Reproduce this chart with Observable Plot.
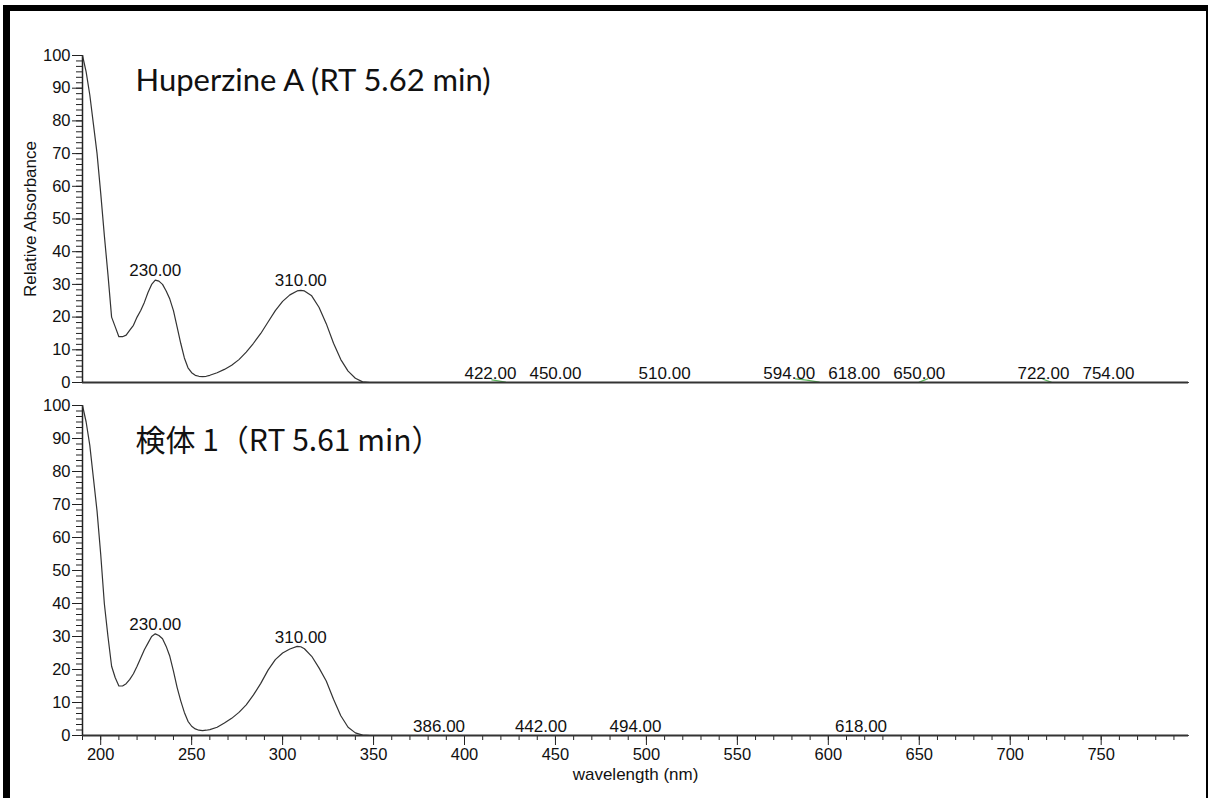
<!DOCTYPE html>
<html><head><meta charset="utf-8">
<script src="https://cdn.jsdelivr.net/npm/d3@7"></script>
<script src="https://cdn.jsdelivr.net/npm/@observablehq/plot@0.6"></script>
<style>
html,body{margin:0;padding:0;background:#fff;}
#wrap{position:relative;width:1208px;height:798px;overflow:hidden;background:#fff;}
#frame{position:absolute;box-sizing:border-box;left:3px;top:5px;width:1205px;height:810px;border-left:7px solid #000;border-top:6px solid #000;border-right:2px solid #000;}
#top,#bot{position:absolute;left:0;}
#top{top:0px}
#bot{top:385px}
svg{overflow:visible}
</style></head><body>
<div id="wrap"><div id="frame"></div><div id="top"></div><div id="bot"></div></div>
<script>
// ---- Data: Huperzine A (top) ----
const wavelengthA = [190,192,194,196,198,200,202,204,206,208,210,212,214,216,218,220,222,224,226,228,230,232,234,236,238,240,242,244,246,248,250,252,254,256,258,260,264,268,272,276,280,284,288,292,296,300,304,308,310,312,316,320,324,328,332,336,340,344,348,798];
const absorbA     = [100,95,88,79,70,58,45,33,20,17,14,14,14.5,16,17.5,20,22,24.5,27.5,30,31.3,31,30,28,25.5,22,17,12,7.5,4.5,3,2.2,1.9,1.8,1.9,2.2,3,4,5.3,7,9.3,12,15,18.5,22,24.8,26.8,28,28.2,28,26.5,23,18,12,7,3.5,1.3,0.2,0,0];
// ---- Data: 検体 1 (bottom) ----
const wavelengthB = [190,192,194,196,198,200,202,204,206,208,210,212,214,216,218,220,222,224,226,228,230,232,234,236,238,240,242,244,246,248,250,252,254,256,258,260,264,268,272,276,280,284,288,292,296,300,304,308,310,312,316,320,324,328,332,336,340,344,348,798];
const absorbB     = [100,95,88,78,68,55,40,30,21,17.5,15,15,15.7,17,18.7,21,23.5,26,28,30,30.8,30.3,29.3,27,24,19.5,14.6,10.5,7,4.3,2.8,2,1.6,1.5,1.6,1.8,2.5,3.8,5.2,7,9.3,12.3,15.8,19.8,23,25,26.2,27,26.9,26.3,24,20.5,16.5,11,6,2.5,0.8,0.1,0,0];
// ---- Peak labels ----
const peakLabelsA = [230,310,422,450,510,594,618,650,722,754];
const peakLabelsB = [230,310,386,442,494,618];
// ---- small green noise traces near baseline (top) ----
const greenSeg = [1,1,1,2,2,2,3,3,4,4];
const greenW   = [415,418.5,422.5,582,588,595,650,654.5,718,722.5];
const greenV   = [0.8,0.5,0.1,1.1,0.7,0.1,0.1,1.1,1.0,0.1];
// ---- ticks ----
const yTickLabels = [0,10,20,30,40,50,60,70,80,90,100];
const xTickLabels = [200,250,300,350,400,450,500,550,600,650,700,750];
const yMinor = d3.range(0, 100.001, 10/6);
const xMinor = d3.range(190, 791, 10);

const titleA = "Huperzine A (RT 5.62 min)";
const titleB = "検体 1（RT 5.61 min）";

const X0 = 190, X1 = 798, ML = 82, MR = 20, W = 1208;
const pxPerNm = (W - ML - MR) / (X1 - X0);

function valueAt(ws, vs, w) {
  const i = d3.bisectLeft(ws, w);
  if (i <= 0) return vs[0];
  if (i >= ws.length) return vs[vs.length - 1];
  const t = (w - ws[i-1]) / (ws[i] - ws[i-1]);
  return vs[i-1] + t * (vs[i] - vs[i-1]);
}

// simple label de-overlap: sweep from right to left, pushing overlapping labels leftwards (pixel offsets)
function labelOffsets(labels, minDist) {
  const order = d3.range(labels.length).sort((a, b) => labels[b] - labels[a]);
  const offs = new Array(labels.length).fill(0);
  let prev = null;
  for (const i of order) {
    const px = (labels[i] - X0) * pxPerNm;
    let pos = px;
    if (prev !== null && prev - pos < minDist) pos = prev - minDist;
    offs[i] = pos - px;
    prev = pos;
  }
  return offs;
}

const FONT = "'Liberation Sans', Arial, sans-serif";
const common = {
  width: W, marginLeft: ML, marginRight: MR,
  style: {fontFamily: FONT, fontSize: "16.5px", color: "#111", background: "transparent"}
};

function yAxes() {
  return [
    Plot.axisY(yMinor, {tickSize: 6, tickFormat: () => "", label: null, stroke: "#222"}),
    Plot.axisY(yTickLabels, {tickSize: 10, tickPadding: 2, label: null, stroke: "#222", fill: "#111"})
  ];
}

function curveMarks(ws, vs, labels) {
  const idx = d3.range(ws.length);
  const offs = labelOffsets(labels, 65);
  const li = d3.range(labels.length);
  return [
    Plot.ruleY([0], {stroke: "#333", strokeWidth: 2}),
    Plot.ruleX([X0], {stroke: "#222", strokeWidth: 1.5}),
    Plot.line(idx, {x: i => ws[i], y: i => vs[i], stroke: "#333", strokeWidth: 1.2}),
    Plot.text(li, {x: i => labels[i] + offs[i] / pxPerNm, y: i => valueAt(ws, vs, labels[i]), text: i => labels[i].toFixed(2),
      lineAnchor: "bottom", dy: -4, fontSize: 17, fill: "#111"})
  ];
}

const topPlot = Plot.plot({
  ...common, height: 400, marginTop: 55, marginBottom: 18,
  x: {domain: [X0, X1], axis: null},
  y: {domain: [0, 100]},
  marks: [
    ...yAxes(),
    Plot.line(d3.range(greenW.length), {x: i => greenW[i], y: i => greenV[i], z: i => greenSeg[i], stroke: "#5fb85f", strokeWidth: 1.2}),
    ...curveMarks(wavelengthA, absorbA, peakLabelsA),
    Plot.text(["Relative Absorbance"], {text: d => d, frameAnchor: "left", textAnchor: "middle", rotate: -90, dx: -52, fontSize: 17, fill: "#111"}),
    Plot.text([titleA], {text: d => d, frameAnchor: "top-left", dx: 53, dy: 35, textAnchor: "start", lineAnchor: "bottom", fontSize: 31, fontFamily: "Lato", fill: "#111"})
  ]
});
document.getElementById("top").appendChild(topPlot);

const botPlot = Plot.plot({
  ...common, height: 413, marginTop: 20, marginBottom: 63,
  x: {domain: [X0, X1]},
  y: {domain: [0, 100]},
  marks: [
    ...yAxes(),
    Plot.axisX(xMinor, {tickSize: 5, tickFormat: () => "", label: null, stroke: "#222"}),
    Plot.axisX(xTickLabels, {tickSize: 10, tickPadding: 3, label: null, stroke: "#222", fill: "#111"}),
    ...curveMarks(wavelengthB, absorbB, peakLabelsB),
    Plot.text(["wavelength (nm)"], {text: d => d, frameAnchor: "bottom", dy: 44, fontSize: 17, fill: "#111"}),
    Plot.text([titleB], {text: d => d, frameAnchor: "top-left", dx: 53, dy: 45, textAnchor: "start", lineAnchor: "bottom", fontSize: 30, fontFamily: "'Noto Sans CJK JP'", fill: "#111"})
  ]
});
document.getElementById("bot").appendChild(botPlot);
</script>
</body></html>
